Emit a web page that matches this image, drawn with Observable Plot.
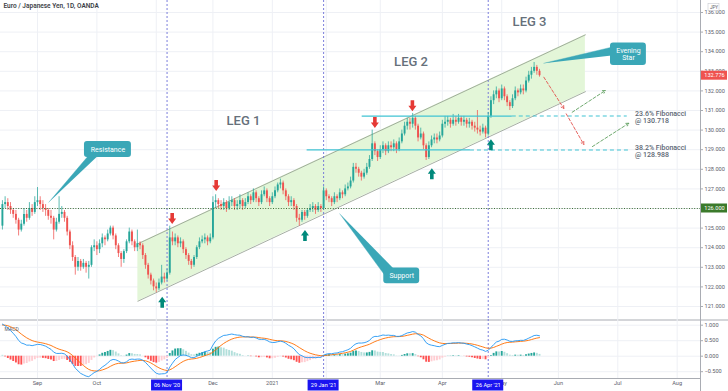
<!DOCTYPE html>
<html><head><meta charset="utf-8">
<script src="https://cdn.jsdelivr.net/npm/d3@7"></script>
<script src="https://cdn.jsdelivr.net/npm/@observablehq/plot@0.6"></script>
<style>
body{margin:0;background:#fff;}
#chart{position:relative;width:728px;height:391px;overflow:hidden;}
#chart svg{position:absolute;left:0;}
</style></head><body><div id="chart"></div>
<script>
// ---------- data ----------
const title = "Euro / Japanese Yen, 1D, OANDA";
const firstOpen = 125.1;
const closes = [
126.2,126.3,126.1,125.9,125.7,125.4,124.9,125.2,125.7,125.5,
126.0,125.8,126.3,126.4,126.2,126.0,125.9,125.6,125.5,124.9,
125.3,125.7,125.8,125.5,124.8,124.1,123.5,123.0,123.3,123.0,
123.2,123.0,123.1,124.0,124.1,123.9,124.2,124.5,124.4,124.7,
125.0,124.6,124.1,123.7,123.4,123.8,124.3,124.8,124.3,124.0,
124.2,124.1,123.6,123.1,122.6,122.3,122.0,121.9,122.2,122.5,
122.4,122.7,124.5,124.3,124.5,124.2,124.3,123.9,123.6,123.3,
123.1,123.5,124.0,124.3,124.4,124.5,124.3,124.5,126.3,126.4,
126.2,126.1,126.3,126.0,126.3,126.4,126.1,126.2,126.4,126.1,
126.3,126.6,126.4,126.8,126.5,126.3,126.7,126.9,126.5,126.3,
126.6,126.9,127.2,127.3,126.9,126.6,126.3,126.4,126.1,125.5,
125.4,125.8,125.6,125.9,126.0,126.1,125.9,126.1,126.0,126.9,
126.6,126.5,126.3,126.6,126.5,126.8,126.7,127.0,127.1,127.4,
128.1,128.0,127.8,127.6,127.8,128.1,128.5,129.3,128.9,128.6,
129.0,129.2,128.9,129.2,129.1,129.3,129.0,129.4,129.8,130.2,
130.4,130.3,130.6,130.2,129.6,129.8,129.2,128.6,129.2,129.5,
129.6,129.5,129.7,130.3,130.4,130.5,130.3,130.5,130.4,130.6,
130.4,130.5,130.3,130.4,130.2,130.1,130.0,129.9,130.1,129.8,
130.7,131.5,131.8,132.0,131.6,132.1,131.7,131.4,131.2,131.6,
132.0,131.9,132.1,132.0,132.5,132.8,133.0,133.2,133.0,132.776];
const highs = [
126.4,126.6,126.5,126.3,126.0,125.9,125.5,125.4,126.0,125.9,
126.3,126.2,126.6,127.07,126.6,126.4,126.2,126.0,125.9,125.6,
125.5,126.6,126.1,125.9,125.6,124.9,124.3,123.6,123.5,123.4,
123.4,123.3,123.3,124.1,124.4,124.3,124.4,124.7,124.6,124.9,
125.1,125.1,124.7,124.2,123.8,123.9,124.4,125.0,124.9,124.4,
124.9,124.3,124.2,123.7,123.2,122.7,122.4,122.2,122.4,123.1,
122.7,122.9,125.1,124.8,124.7,124.6,124.5,124.4,124.0,123.7,
123.4,123.6,124.1,124.5,124.6,124.7,124.6,124.7,126.6,126.7,
126.5,126.4,126.5,126.4,126.6,126.6,126.5,126.4,126.7,126.5,
126.5,126.8,126.7,127.0,126.9,126.6,126.9,127.1,127.0,126.6,
126.8,127.1,127.3,127.5,127.4,127.0,126.7,126.6,126.5,126.2,
125.7,125.9,125.9,126.0,126.2,126.3,126.2,126.3,126.2,127.1,
127.0,126.7,126.6,126.8,126.7,127.0,126.9,127.2,127.3,127.6,
128.3,128.3,128.1,127.9,128.0,128.3,128.7,130.0,129.4,129.0,
129.2,129.4,129.3,129.4,129.4,129.5,129.4,129.6,130.0,130.4,
130.6,130.6,130.85,130.7,130.3,130.1,129.9,129.3,129.4,129.7,
129.8,129.8,129.9,130.5,130.7,130.7,130.6,130.8,130.7,130.8,
130.7,130.7,130.6,130.6,130.5,130.4,131.0,130.2,130.3,130.2,
130.9,131.7,132.0,132.2,132.1,132.3,132.2,131.8,131.5,131.8,
132.2,132.1,132.3,132.3,132.7,133.0,133.2,133.45,133.3,133.1];
const lows = [
124.9,126.0,125.9,125.7,125.5,125.2,124.6,124.8,125.1,125.3,
125.4,125.6,125.7,126.1,125.9,125.8,125.6,125.4,125.2,124.4,
124.8,125.2,125.5,125.3,124.6,123.9,123.3,122.6,122.8,122.8,
122.9,122.7,122.4,123.0,123.8,123.6,123.7,124.0,124.1,124.3,
124.6,124.4,123.9,123.5,123.0,123.2,123.7,124.2,124.1,123.8,
123.8,123.9,123.4,122.9,122.4,122.1,121.8,121.7,121.8,122.1,
122.2,122.3,122.6,124.1,124.1,124.0,124.0,123.7,123.4,123.1,
122.9,123.0,123.4,123.9,124.2,124.2,124.1,124.2,124.4,126.0,
126.0,125.9,125.9,125.8,125.9,126.1,125.9,125.9,126.0,125.9,
126.0,126.2,126.2,126.3,126.3,126.1,126.2,126.6,126.3,126.1,
126.2,126.5,126.8,127.0,126.7,126.4,126.1,126.1,125.9,125.3,
125.1,125.3,125.4,125.5,125.8,125.8,125.7,125.8,125.8,125.9,
126.4,126.3,126.1,126.2,126.3,126.4,126.5,126.6,126.9,127.0,
127.3,127.8,127.6,127.4,127.5,127.7,128.0,128.4,128.7,128.4,
128.5,128.8,128.7,128.8,128.9,128.9,128.8,128.9,129.3,129.7,
130.0,130.0,130.1,130.0,129.4,129.5,129.0,128.45,128.5,129.1,
129.3,129.3,129.4,129.6,130.1,130.2,130.1,130.2,130.2,130.3,
130.2,130.2,130.1,130.1,130.0,129.9,129.8,129.7,129.8,129.6,
129.7,130.6,131.3,131.6,131.4,131.5,131.5,131.2,131.0,131.1,
131.5,131.7,131.8,131.8,131.9,132.4,132.6,132.9,132.8,132.7];
const lastPrice = 132.776;
const keyLevel = 126;

// MACD(12,26,9) state at the left edge
const macdSeed = {ema12: 126.0, ema26: 124.9, signal: 1.0};

// axes
const priceTicks = [121,122,123,124,125,126,127,128,129,130,131,132,133,134,135,136];
const macdTicks = [1, 0.5, 0, -0.5];
const macdTickLabels = ["1.000", "0.500", "0.000", "\u22120.500"];
const monthTickIdx = [13, 35, 57, 78, 100, 120, 140, 163, 185, 206, 228, 250];
const monthTickLabels = ["Sep", "Oct", "", "Dec", "2021", "", "Mar", "Apr", "May", "Jun", "Jul", "Aug"];
const eventIdx = [61, 119, 180];
const eventLabels = ["06 Nov '20", "29 Jan '21", "26 Apr '21"];

// channel
const channelIdx = [50.2, 216.0];
const channelUpper = [124.2, 134.86];
const channelLower = [121.27, 131.96];

// Fibonacci levels
const fibLevels = [130.718, 128.988];
const fibNames = ["23.6% Fibonacci", "38.2% Fibonacci"];
const fibStartIdx = [133.3, 112.9];
const fibSolidEndIdx = [188.9, 173.4];
const fibEndIdx = [231.5, 232.7];
const fibLabelIdx = [234.4, 234.4];
const fibLabelPrice = [130.64, 128.91];

// arrows
const sellIdx = [62.9, 79.2, 138.0, 151.9];
const sellPrice = [125.49, 127.17, 130.39, 131.24];
const buyIdx = [59.2, 112.1, 159.1, 181.0];
const buyPrice = [121.22, 124.62, 127.77, 129.25];

// legs
const legNames = ["LEG 1", "LEG 2", "LEG 3"];
const legIdx = [89.3, 151.4, 195.3];
const legPrice = [130.49, 133.5, 135.54];

// projections (from -> to)
const projDownFrom = [[200.6, 132.70], [208.9, 130.83]];
const projDownTo = [[208.0, 131.10], [215.4, 129.27]];
const projUpFrom = [[211.1, 130.91], [218.6, 129.16]];
const projUpTo = [[223.4, 132.02], [232.1, 130.35]];

// callouts
const calloutText = ["Resistance", "Support", "Evening\nStar"];
const calloutBoxIdx = [[30.4, 47.8], [141.3, 154.6], [225.3, 238.6]];
const calloutBoxPrice = [[128.60, 129.42], [122.16, 122.97], [133.30, 134.45]];
const calloutTipIdx = [17.2, 125.0, 200.6];
const calloutTipPrice = [126.32, 125.73, 133.41];
const calloutBaseIdx = [[31.6, 35.1], [141.75, 144.9], [225.7, 225.7]];
const calloutBasePrice = [[128.65, 128.65], [122.58, 122.94], [134.23, 133.81]];

// ---------- scale layout ----------
const ppb = 2.699;                 // px per bar
const X0 = 13 - 37 / ppb, X1 = 13 + 663 / ppb;
const PPU = 19.6;                  // px per yen
const P0 = 126 - 111 / PPU, P1 = 126 + 208 / PPU;
const M0 = (36.7 - 59) / 31, M1 = 36.7 / 31;
const px = d => d / ppb;           // pixel width in bar units
const pp = d => d / PPU;           // pixel height in price units
const mLocal = y => (36.7 - y) / 31;

const UP = "#26a69a", DOWN = "#ef5350", TEAL = "#3aa7b7", CYAN = "#40c3d3";
const AX = "#5d606b", GRID = "#eef0f5", FONT = "Roboto, 'Liberation Sans', sans-serif";

// ---------- derived tables ----------
const bars = closes.map((c, i) => {
  const o = i ? closes[i - 1] : firstOpen;
  return {i, o, c, h: highs[i], l: lows[i], col: c >= o ? UP : DOWN};
});
const channel = channelIdx.map((i, k) => ({i, hi: channelUpper[k], lo: channelLower[k]}));
const fibs = fibLevels.map((v, k) => ({v, s: fibStartIdx[k], m: fibSolidEndIdx[k], e: fibEndIdx[k],
  li: fibLabelIdx[k], lp: fibLabelPrice[k], t: fibNames[k] + "\n@ " + v.toFixed(3)}));
const sells = sellIdx.map((i, k) => ({i, p: sellPrice[k]}));
const buys = buyIdx.map((i, k) => ({i, p: buyPrice[k]}));
const legs = legNames.map((t, k) => ({t, i: legIdx[k], p: legPrice[k]}));
const projDown = projDownFrom.map((f, k) => ({x1: f[0], y1: f[1], x2: projDownTo[k][0], y2: projDownTo[k][1]}));
const projUp = projUpFrom.map((f, k) => ({x1: f[0], y1: f[1], x2: projUpTo[k][0], y2: projUpTo[k][1]}));
const boxes = calloutText.map((t, k) => ({t, x1: calloutBoxIdx[k][0], x2: calloutBoxIdx[k][1],
  y1: calloutBoxPrice[k][0], y2: calloutBoxPrice[k][1]}));
const wedgePts = calloutText.flatMap((t, k) => [
  {k, i: calloutTipIdx[k], p: calloutTipPrice[k]},
  {k, i: calloutBaseIdx[k][0], p: calloutBasePrice[k][0]},
  {k, i: calloutBaseIdx[k][1], p: calloutBasePrice[k][1]}]);
const months = monthTickIdx.map((i, k) => ({i, t: monthTickLabels[k]}));
const events = eventIdx.map((i, k) => ({i, t: eventLabels[k]}));
const priceBoxes = [{v: lastPrice, col: "#ef5350"}, {v: keyLevel, col: "#3b7a2b"}];

// MACD 12/26/9 from the closes
const a12 = 2 / 13, a26 = 2 / 27, a9 = 2 / 10;
let e12 = macdSeed.ema12, e26 = macdSeed.ema26, sig = macdSeed.signal;
let prevH = (e12 - e26) - sig;
const macdRows = closes.map((c, i) => {
  e12 += a12 * (c - e12); e26 += a26 * (c - e26);
  const m = e12 - e26; sig += a9 * (m - sig);
  const h = m - sig;
  const col = h >= 0 ? (h > prevH ? "#26a69a" : "#b2dfdb") : (h > prevH ? "#ffcdd2" : "#ff5252");
  prevH = h;
  return {i, m, s: sig, h, col};
});

// block-arrow symbols
const arrowDown = {draw(ctx, size) {
  const r = Math.sqrt(size / Math.PI);
  ctx.moveTo(-0.36 * r, -1.1 * r); ctx.lineTo(0.36 * r, -1.1 * r); ctx.lineTo(0.36 * r, 0);
  ctx.lineTo(0.8 * r, 0); ctx.lineTo(0, 1.1 * r); ctx.lineTo(-0.8 * r, 0); ctx.lineTo(-0.36 * r, 0); ctx.closePath();
}};
const arrowUp = {draw(ctx, size) {
  const r = Math.sqrt(size / Math.PI);
  ctx.moveTo(-0.36 * r, 1.1 * r); ctx.lineTo(0.36 * r, 1.1 * r); ctx.lineTo(0.36 * r, 0);
  ctx.lineTo(0.8 * r, 0); ctx.lineTo(0, -1.1 * r); ctx.lineTo(-0.8 * r, 0); ctx.lineTo(-0.36 * r, 0); ctx.closePath();
}};

// ---------- price pane ----------
const pricePlot = Plot.plot({
  width: 728, height: 320, marginLeft: 0, marginRight: 28, marginTop: 0, marginBottom: 1,
  x: {domain: [X0, X1], axis: null},
  y: {domain: [P0, P1], axis: null},
  style: {fontFamily: FONT, background: "transparent", overflow: "visible"},
  marks: [
    Plot.ruleY(priceTicks, {stroke: GRID}),
    Plot.ruleX(monthTickIdx, {stroke: GRID}),
    Plot.areaY(channel, {x: "i", y1: "lo", y2: "hi", fill: "#e3f6d8"}),
    Plot.line(channel, {x: "i", y: "hi", stroke: "#8f9a8c", strokeWidth: 0.8}),
    Plot.line(channel, {x: "i", y: "lo", stroke: "#8f9a8c", strokeWidth: 0.8}),
    Plot.ruleX(eventIdx, {stroke: "#6d70d8", strokeDasharray: "2,2", strokeWidth: 0.9}),
    Plot.ruleX(bars, {x: "i", y1: "l", y2: "h", stroke: "col", strokeWidth: 0.75}),
    Plot.ruleX(bars, {x: "i", y1: "o", y2: "c", stroke: "col", strokeWidth: 1.9}),
    Plot.ruleY([keyLevel], {stroke: "#3d6e35", strokeDasharray: "1,1.6", strokeWidth: 1}),
    Plot.ruleY(fibs, {y: "v", x1: "s", x2: "m", stroke: CYAN, strokeWidth: 1.3}),
    Plot.ruleY(fibs, {y: "v", x1: "m", x2: "e", stroke: CYAN, strokeWidth: 1.1, strokeDasharray: "4,3"}),
    Plot.dot(sells, {x: "i", y: "p", r: 5, symbol: arrowDown, fill: "#e53935", stroke: "none"}),
    Plot.dot(buys, {x: "i", y: "p", r: 5, symbol: arrowUp, fill: "#00897b", stroke: "none"}),
    Plot.arrow(projDown, {x1: "x1", y1: "y1", x2: "x2", y2: "y2", stroke: "#e2504c", strokeWidth: 0.9, strokeDasharray: "3,2", headLength: 5}),
    Plot.arrow(projUp, {x1: "x1", y1: "y1", x2: "x2", y2: "y2", stroke: "#5f9f5f", strokeWidth: 0.9, strokeDasharray: "3,2", headLength: 5}),
    Plot.line(wedgePts, {x: "i", y: "p", z: "k", fill: TEAL, stroke: TEAL, strokeWidth: 0.4}),
    Plot.rect(boxes, {x1: "x1", x2: "x2", y1: "y1", y2: "y2", fill: TEAL, rx: 3}),
    Plot.text(boxes, {x: d => (d.x1 + d.x2) / 2, y: d => (d.y1 + d.y2) / 2, text: "t", fill: "white",
      fontSize: 7, lineHeight: 1.05}),
    Plot.text(legs, {x: "i", y: "p", text: "t", fontSize: 13, fill: "#66707b", fontWeight: 500}),
    Plot.text(fibs, {x: "li", y: "lp", text: "t", textAnchor: "start", fontSize: 7, fill: "#5b6573",
      fontWeight: 500, lineHeight: 0.95}),
    Plot.text([title], {frameAnchor: "top-left", dx: 3, dy: 3, lineAnchor: "top", fontSize: 6.5,
      fontWeight: 600, fill: "#3c3f47"}),
    // right axis
    Plot.ruleX([X1], {stroke: "#a9acb3"}),
    Plot.ruleY(priceTicks, {x1: X1, x2: X1 + px(3), stroke: "#a9acb3"}),
    Plot.text(priceTicks, {y: d => d, text: d => d.toFixed(3), frameAnchor: "right", dx: 4,
      textAnchor: "start", fontSize: 5.6, fill: AX}),
    Plot.rect(priceBoxes, {x1: X1 + px(1), x2: X1 + px(27), y1: d => d.v - pp(4.5), y2: d => d.v + pp(4.5), fill: "col"}),
    Plot.text(priceBoxes, {x: X1 + px(14), y: "v", text: d => d.v.toFixed(3), fill: "white", fontSize: 5.6}),
    Plot.rect(["JPY"], {x1: X1 + px(8), x2: X1 + px(19), y1: P1 - pp(10.5), y2: P1 - pp(3.5), fill: "white", stroke: "#c8cad0", strokeWidth: 0.6}),
    Plot.text(["JPY"], {x: X1 + px(13.5), y: P1 - pp(7), text: d => d, fontSize: 4.6, fill: AX}),
    Plot.ruleY([P0 - pp(0.5)], {x1: X0, x2: X0 + px(728), stroke: "#a9acb3"})
  ]
});

// ---------- MACD pane ----------
const macdPlot = Plot.plot({
  width: 728, height: 72, marginLeft: 0, marginRight: 28, marginTop: 0, marginBottom: 13,
  x: {domain: [X0, X1], axis: null},
  y: {domain: [M0, M1], axis: null},
  style: {fontFamily: FONT, background: "transparent", overflow: "visible"},
  marks: [
    Plot.ruleY(macdTicks, {stroke: GRID}),
    Plot.ruleX(monthTickIdx, {stroke: GRID}),
    Plot.ruleX(eventIdx, {stroke: "#6d70d8", strokeDasharray: "2,2", strokeWidth: 0.9}),
    Plot.ruleX(macdRows, {x: "i", y1: 0, y2: "h", stroke: "col", strokeWidth: 1.9}),
    Plot.line(macdRows, {x: "i", y: "s", stroke: "#ff6d00", strokeWidth: 0.9}),
    Plot.line(macdRows, {x: "i", y: "m", stroke: "#2196f3", strokeWidth: 0.9}),
    Plot.text(["MACD"], {frameAnchor: "top-left", dx: 4, dy: 8, fontSize: 5, fill: AX}),
    Plot.ruleY([M0], {x1: X0, x2: X1, stroke: "#a9acb3"}),
    Plot.ruleX([X1], {y1: M1, y2: mLocal(72), stroke: "#a9acb3"}),
    Plot.ruleY(macdTicks, {x1: X1, x2: X1 + px(3), stroke: "#a9acb3"}),
    Plot.text(macdTicks, {y: d => d, text: (d, k) => macdTickLabels[k], frameAnchor: "right", dx: 4,
      textAnchor: "start", fontSize: 5.6, fill: AX}),
    Plot.text(months.filter(d => d.t), {x: "i", text: "t", frameAnchor: "bottom", dy: 6.5, fontSize: 5.6, fill: AX}),
    Plot.rect(events, {x1: d => d.i - px(15.5), x2: d => d.i + px(15.5), y1: mLocal(71.5), y2: mLocal(60.5), fill: "#1a14f0"}),
    Plot.text(events, {x: "i", y: mLocal(66), text: "t", fill: "white", fontSize: 5.6})
  ]
});

const root = document.getElementById("chart");
pricePlot.style.top = "0px";
macdPlot.style.top = "319px";
root.appendChild(pricePlot);
root.appendChild(macdPlot);
</script>
</body></html>
